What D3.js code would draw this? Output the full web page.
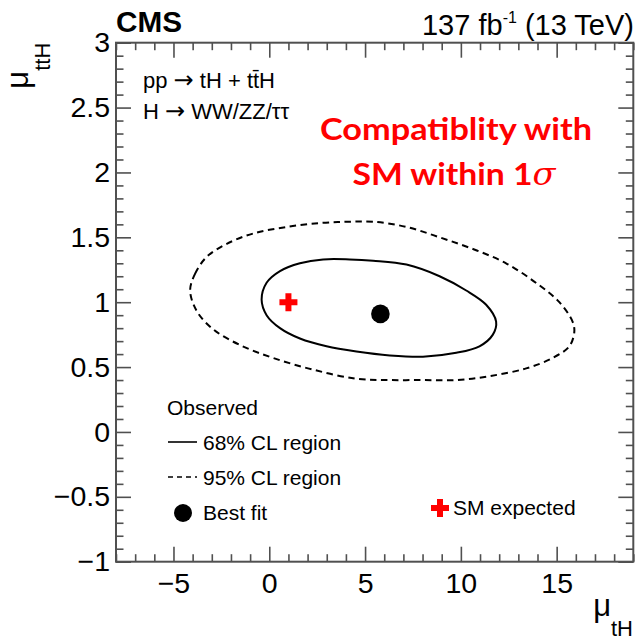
<!DOCTYPE html>
<html>
<head>
<meta charset="utf-8">
<script src="https://cdn.jsdelivr.net/npm/d3@7"></script>
<style>
  html, body { margin: 0; padding: 0; background: #fff; }
  svg { display: block; font-family: "Liberation Sans", Arial, Helvetica, sans-serif; }
</style>
</head>
<body>
<svg id="chart" width="635" height="640"></svg>
<script>
// Axis ranges and tick values
const xDomain = [-8, 19];
const yDomain = [-1, 3];
const xMajorTicks = [-5, 0, 5, 10, 15];
const yMajorTicks = [-1, -0.5, 0, 0.5, 1, 1.5, 2, 2.5, 3];
const xMinorStep = 1;
const yMinorStep = 0.1;

// Fit results in the (mu_tH, mu_ttH) plane
const bestFit = [5.8, 0.91];
const smExpected = [1.0, 1.0];

// 68% CL contour (observed)
const contour68 = [
  [-0.40, 1.02], [-0.14, 1.15], [0.56, 1.24], [1.60, 1.30], [2.81, 1.33],
  [4.20, 1.33], [5.42, 1.32], [7.16, 1.29], [8.89, 1.20], [10.28, 1.09],
  [11.32, 0.98], [11.84, 0.85], [11.67, 0.75], [10.97, 0.66], [9.76, 0.61],
  [8.02, 0.58], [6.29, 0.59], [4.55, 0.62], [2.99, 0.66], [1.60, 0.72],
  [0.56, 0.80], [-0.14, 0.90]
];

// 95% CL contour (observed)
const contour95 = [
  [-4.13, 1.09], [-3.87, 1.22], [-3.26, 1.35], [-2.22, 1.45], [-0.83, 1.53],
  [0.91, 1.58], [2.64, 1.61], [4.03, 1.62], [5.42, 1.62], [7.16, 1.58],
  [8.89, 1.50], [10.63, 1.41], [12.36, 1.30], [14.10, 1.13], [15.14, 1.00],
  [15.83, 0.85], [15.92, 0.77], [15.66, 0.66], [14.79, 0.57], [13.41, 0.49],
  [11.49, 0.43], [9.76, 0.40], [8.02, 0.40], [6.29, 0.40], [4.55, 0.41],
  [2.29, 0.48], [0.21, 0.57], [-1.53, 0.67], [-2.92, 0.79], [-3.78, 0.93]
];

// Legend and annotation texts
const legendTitle = "Observed";
const legendLabels = ["68% CL region", "95% CL region", "Best fit"];
const smLabel = "SM expected";
const processLines = [
  ["pp ", "\u2192", " tH + tt\u0304H"],
  ["H ", "\u2192", " WW/ZZ/\u03C4\u03C4"]
];
const lumiText = { main: "137 fb", sup: "-1", tail: " (13 TeV)" };
const noteLines = ["Compatiblity with", "SM within 1"];

// ---------------------------------------------------------------
const svg = d3.select("#chart");
const frame = { left: 116, right: 633.3, top: 42.7, bottom: 561.7 };
const axisColor = "#505050";

const x = d3.scaleLinear().domain(xDomain).range([frame.left, frame.right]);
const y = d3.scaleLinear().domain(yDomain).range([frame.bottom, frame.top]);

const near = (a, b) => Math.abs(a - b) < 1e-6;
const xMinor = d3.range(xDomain[0], xDomain[1] + 1e-9, xMinorStep)
  .filter(v => !xMajorTicks.some(m => near(m, v)));
const yMinor = d3.range(0, Math.round((yDomain[1] - yDomain[0]) / yMinorStep) + 1)
  .map(i => +(yDomain[0] + i * yMinorStep).toFixed(3))
  .filter(v => !yMajorTicks.some(m => near(m, v)));

const fmt = d3.format("~g");
const majorLen = 15, minorLen = 7.5;

function styleAxis(g) {
  g.select(".domain").remove();
  g.selectAll(".tick line").attr("stroke", axisColor).attr("stroke-width", 1.6);
}
function styleLabels(g) {
  g.selectAll("text").attr("fill", "#000")
    .attr("font-size", 28.5).attr("font-family", "Liberation Sans, Arial, sans-serif");
}

// Bottom axis: labelled major ticks plus minor ticks, all pointing inwards
svg.append("g")
  .attr("transform", `translate(0,${frame.bottom})`)
  .call(d3.axisBottom(x).tickValues(xMajorTicks).tickSize(-majorLen)
    .tickPadding(11.5).tickFormat(fmt))
  .call(styleAxis).call(styleLabels);
svg.append("g")
  .attr("transform", `translate(0,${frame.bottom})`)
  .call(d3.axisBottom(x).tickValues(xMinor).tickSize(-minorLen).tickFormat(""))
  .call(styleAxis);

// Top axis (ticks only)
svg.append("g")
  .attr("transform", `translate(0,${frame.top})`)
  .call(d3.axisTop(x).tickValues(xMajorTicks).tickSize(-majorLen).tickFormat(""))
  .call(styleAxis);
svg.append("g")
  .attr("transform", `translate(0,${frame.top})`)
  .call(d3.axisTop(x).tickValues(xMinor).tickSize(-minorLen).tickFormat(""))
  .call(styleAxis);

// Left axis
svg.append("g")
  .attr("transform", `translate(${frame.left},0)`)
  .call(d3.axisLeft(y).tickValues(yMajorTicks).tickSize(-majorLen)
    .tickPadding(6).tickFormat(fmt))
  .call(styleAxis).call(styleLabels);
svg.append("g")
  .attr("transform", `translate(${frame.left},0)`)
  .call(d3.axisLeft(y).tickValues(yMinor).tickSize(-minorLen).tickFormat(""))
  .call(styleAxis);

// Right axis (ticks only)
svg.append("g")
  .attr("transform", `translate(${frame.right},0)`)
  .call(d3.axisRight(y).tickValues(yMajorTicks).tickSize(-majorLen).tickFormat(""))
  .call(styleAxis);
svg.append("g")
  .attr("transform", `translate(${frame.right},0)`)
  .call(d3.axisRight(y).tickValues(yMinor).tickSize(-minorLen).tickFormat(""))
  .call(styleAxis);

// Frame
svg.append("rect")
  .attr("x", x(xDomain[0])).attr("y", y(yDomain[1]))
  .attr("width", x(xDomain[1]) - x(xDomain[0]))
  .attr("height", y(yDomain[0]) - y(yDomain[1]))
  .attr("fill", "none").attr("stroke", axisColor).attr("stroke-width", 2);

// Contours
const contourLine = d3.line()
  .x(d => x(d[0])).y(d => y(d[1]))
  .curve(d3.curveCatmullRomClosed.alpha(0.5));

svg.append("path").datum(contour95)
  .attr("d", contourLine)
  .attr("fill", "none").attr("stroke", "#000")
  .attr("stroke-width", 2).attr("stroke-dasharray", "6.5,4.5");

svg.append("path").datum(contour68)
  .attr("d", contourLine)
  .attr("fill", "none").attr("stroke", "#000").attr("stroke-width", 2);

// Best-fit point and SM expectation
const crossSymbol = d3.symbol().type(d3.symbolCross).size(180);
svg.append("circle")
  .attr("cx", x(bestFit[0])).attr("cy", y(bestFit[1])).attr("r", 9.3)
  .attr("fill", "#000");
svg.append("path")
  .attr("d", crossSymbol())
  .attr("transform", `translate(${x(smExpected[0])},${y(smExpected[1])})`)
  .attr("fill", "#ff0000");

// Header texts
svg.append("text")
  .attr("x", 116).attr("y", 32)
  .attr("font-size", 29).attr("font-weight", "bold")
  .attr("textLength", 66).attr("lengthAdjust", "spacingAndGlyphs")
  .text("CMS");

const lumi = svg.append("text")
  .attr("x", 634).attr("y", 35)
  .attr("text-anchor", "end")
  .attr("font-size", 29);
lumi.append("tspan").text(lumiText.main);
lumi.append("tspan").attr("font-size", 16).attr("dy", -12).text(lumiText.sup);
lumi.append("tspan").attr("dy", 12).text(lumiText.tail);

// Process labels
processLines.forEach((parts, i) => {
  const t = svg.append("text")
    .attr("x", 143).attr("y", 87.5 + i * 31)
    .attr("font-size", 22);
  t.append("tspan").text(parts[0]);
  t.append("tspan").attr("font-family", "'DejaVu Sans', sans-serif")
    .attr("font-size", 24).text(parts[1]);
  t.append("tspan").text(parts[2]);
});

// Red annotation
const note = svg.append("g")
  .attr("font-family", "Lato, 'Open Sans', sans-serif")
  .attr("font-weight", "bold")
  .attr("font-size", 31)
  .attr("fill", "#ff0000")
  .attr("text-anchor", "middle");
note.append("text").attr("x", 456).attr("y", 140)
  .attr("textLength", 272).attr("lengthAdjust", "spacingAndGlyphs")
  .text(noteLines[0]);
const note2 = note.append("text").attr("x", 454).attr("y", 185)
  .attr("textLength", 203).attr("lengthAdjust", "spacingAndGlyphs");
note2.append("tspan").text(noteLines[1]);
note2.append("tspan")
  .attr("font-family", "'DejaVu Serif', 'Liberation Serif', serif")
  .attr("font-style", "italic").attr("font-weight", "normal")
  .text("\u03C3");

// Axis titles
const xTitle = svg.append("text")
  .attr("x", 633).attr("y", 616)
  .attr("text-anchor", "end");
xTitle.append("tspan").attr("font-size", 31).text("\u03BC");
xTitle.append("tspan").attr("font-size", 22).attr("dy", 20).text("tH");

const yTitle = svg.append("text")
  .attr("transform", `translate(28,${frame.top}) rotate(-90)`)
  .attr("text-anchor", "end");
yTitle.append("tspan").attr("font-size", 31).text("\u03BC");
yTitle.append("tspan").attr("font-size", 22).attr("dy", 22).text("ttH");

// Legend
const legend = svg.append("g").attr("font-size", 21);
legend.append("text").attr("x", 167).attr("y", 415).text(legendTitle);
const legendRows = [450, 485, 520];
legend.append("line")
  .attr("x1", 168).attr("x2", 197).attr("y1", legendRows[0] - 8).attr("y2", legendRows[0] - 8)
  .attr("stroke", "#000").attr("stroke-width", 1.6);
legend.append("line")
  .attr("x1", 168).attr("x2", 197).attr("y1", legendRows[1] - 8).attr("y2", legendRows[1] - 8)
  .attr("stroke", "#000").attr("stroke-width", 1.6).attr("stroke-dasharray", "5,4");
legend.append("circle")
  .attr("cx", 183).attr("cy", legendRows[2] - 7).attr("r", 9)
  .attr("fill", "#000");
legendLabels.forEach((t, i) => {
  legend.append("text").attr("x", 203).attr("y", legendRows[i]).text(t);
});
legend.append("path")
  .attr("d", crossSymbol())
  .attr("transform", "translate(440,508)")
  .attr("fill", "#ff0000");
legend.append("text").attr("x", 453).attr("y", 515).text(smLabel);
</script>
</body>
</html>
